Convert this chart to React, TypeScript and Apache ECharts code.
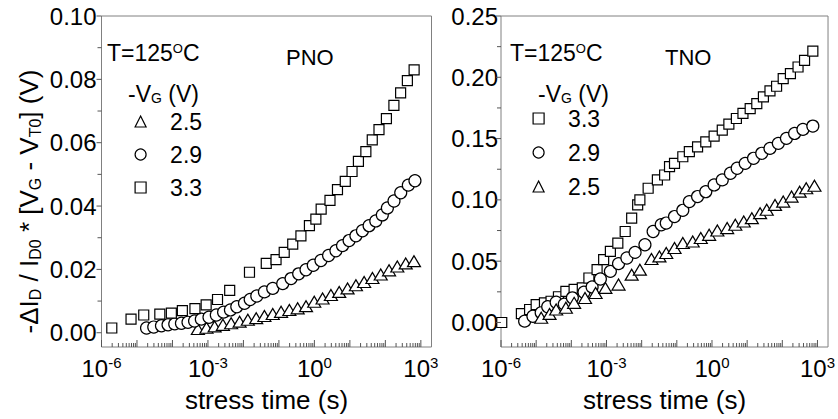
import React, { useEffect, useRef } from 'react';
import * as echarts from 'echarts';

const FONT = '"Liberation Sans", Arial, sans-serif';

// ---- PNO panel (left) : stress time (s) and value (V)
const pnoT25 = [5.2e-4, 9.1e-4, 1.54e-3, 2.64e-3, 4.5e-3, 7.8e-3, 1.33e-2, 2.29e-2, 3.9e-2, 6.7e-2, 0.115, 0.197, 0.337, 0.58, 0.99, 1.7, 2.92, 5.0, 8.6, 14.8, 25.2, 43.2, 74, 127, 217, 374, 640];
const pnoV25 = [0.0012, 0.0016, 0.002, 0.0025, 0.003, 0.0035, 0.0041, 0.0046, 0.0053, 0.0059, 0.0066, 0.0072, 0.0077, 0.0084, 0.0098, 0.0108, 0.0119, 0.0129, 0.014, 0.015, 0.016, 0.0173, 0.0184, 0.0197, 0.0209, 0.0219, 0.0226];
const pnoT29 = [1.86e-5, 2.97e-5, 4.9e-5, 7.5e-5, 1.16e-4, 1.79e-4, 2.74e-4, 4.2e-4, 6.5e-4, 1.07e-3, 1.72e-3, 2.76e-3, 4.3e-3, 6.5e-3, 1.07e-2, 1.55e-2, 2.38e-2, 3.9e-2, 6.7e-2, 0.128, 0.22, 0.36, 0.58, 0.93, 1.53, 2.51, 4.04, 6.2, 9.5, 14.8, 22.6, 34.8, 53.7, 82, 114, 175, 271, 443, 682];
const pnoV29 = [0.0015, 0.0018, 0.0022, 0.0025, 0.0028, 0.003, 0.0033, 0.0037, 0.0043, 0.0049, 0.0056, 0.0065, 0.0072, 0.0082, 0.0093, 0.0105, 0.0116, 0.0129, 0.014, 0.0155, 0.0171, 0.0186, 0.0199, 0.0213, 0.0228, 0.0244, 0.0259, 0.0275, 0.0291, 0.0306, 0.0322, 0.0338, 0.0353, 0.0372, 0.0394, 0.0416, 0.0442, 0.0466, 0.048];
const pnoT33 = [1.95e-6, 6.8e-6, 1.55e-5, 4.4e-5, 9.3e-5, 1.9e-4, 4.3e-4, 8.9e-4, 1.86e-3, 4.1e-3, 1.48e-2, 4.4e-2, 8.3e-2, 0.141, 0.245, 0.417, 0.724, 1.1, 1.55, 2.75, 4.47, 7.41, 11.5, 17.4, 28.2, 42.7, 66.1, 107, 174, 269, 417, 646];
const pnoV33 = [0.0015, 0.0043, 0.0056, 0.0059, 0.0062, 0.007, 0.0076, 0.0088, 0.0105, 0.0134, 0.0191, 0.0219, 0.0231, 0.0254, 0.028, 0.0306, 0.0338, 0.0359, 0.039, 0.0418, 0.0452, 0.0478, 0.0509, 0.0541, 0.0572, 0.0609, 0.0641, 0.0676, 0.0718, 0.0757, 0.0796, 0.083];

// ---- TNO panel (right)
const tnoT33 = [1.05e-6, 3.8e-6, 6.5e-6, 1.0e-5, 1.72e-5, 2.65e-5, 4.3e-5, 7.0e-5, 1.2e-4, 2.05e-4, 3.16e-4, 5.4e-4, 8.3e-4, 1.29e-3, 2.1e-3, 3.4e-3, 5.2e-3, 7.7e-3, 8.9e-3, 1.53e-2, 2.8e-2, 4.5e-2, 6.2e-2, 8.6e-2, 0.148, 0.227, 0.389, 0.666, 1.15, 1.96, 3.02, 4.94, 7.6, 12.2, 18.8, 29.0, 44.6, 68.7, 106, 170, 280, 429, 738];
const tnoV33 = [0.0, 0.0073, 0.0106, 0.0146, 0.016, 0.0173, 0.021, 0.0254, 0.027, 0.0282, 0.0363, 0.0431, 0.0512, 0.058, 0.0648, 0.0742, 0.0851, 0.0959, 0.1, 0.1095, 0.1163, 0.1203, 0.1271, 0.1298, 0.1352, 0.1393, 0.1433, 0.1474, 0.152, 0.1569, 0.1618, 0.1664, 0.1705, 0.1745, 0.1786, 0.184, 0.1889, 0.1927, 0.1989, 0.203, 0.2084, 0.2138, 0.2214];
const tnoT29 = [4.7e-6, 8.1e-6, 1.39e-5, 2.13e-5, 3.7e-5, 6.3e-5, 1.07e-4, 2.29e-4, 3.9e-4, 6.7e-4, 1.29e-3, 2.2e-3, 3.8e-3, 6.5e-3, 1.24e-2, 2.12e-2, 3.6e-2, 5.0e-2, 8.6e-2, 0.148, 0.227, 0.389, 0.666, 1.15, 1.96, 3.35, 5.2, 8.8, 15.2, 26, 44.6, 77, 131, 224, 386, 738];
const tnoV29 = [0.0011, 0.0051, 0.0079, 0.0128, 0.0165, 0.015, 0.0201, 0.0247, 0.029, 0.0355, 0.0417, 0.048, 0.0526, 0.0572, 0.0634, 0.0742, 0.0797, 0.0811, 0.0864, 0.0915, 0.0986, 0.1027, 0.1067, 0.1122, 0.1163, 0.1217, 0.1258, 0.1298, 0.1339, 0.138, 0.142, 0.1461, 0.1502, 0.1542, 0.1575, 0.1602];
const tnoT25 = [1.39e-5, 2.4e-5, 3.7e-5, 7.0e-5, 1.2e-4, 2.45e-4, 4.9e-4, 9.3e-4, 2.2e-3, 5.2e-3, 8.9e-3, 1.9e-2, 3.2e-2, 5.0e-2, 8.6e-2, 0.148, 0.283, 0.48, 0.83, 1.42, 2.7, 4.6, 8.0, 13.6, 23.3, 36, 62, 106, 183, 311, 478, 820];
const tnoV25 = [0.0038, 0.007, 0.0106, 0.012, 0.016, 0.02, 0.0241, 0.0282, 0.0309, 0.039, 0.0431, 0.0518, 0.0539, 0.0567, 0.0607, 0.0648, 0.0661, 0.0689, 0.0715, 0.075, 0.077, 0.0797, 0.0824, 0.0851, 0.0892, 0.0919, 0.0959, 0.0986, 0.1027, 0.1067, 0.1095, 0.1115];

// axis settings (exponents of ten)
const xDecades = [-6, -5, -4, -3, -2, -1, 0, 1, 2, 3];
const xMinorMult = [2, 3, 4, 5, 6, 7, 8, 9];
const X_MIN = -6;
const X_MAX = 3.3;
const yLeftMajor = [0, 0.02, 0.04, 0.06, 0.08, 0.1];
const yRightMajor = [0, 0.05, 0.1, 0.15, 0.2, 0.25];
const Y_LEFT = [-0.0045, 0.1];
const Y_RIGHT = [-0.02, 0.25];

const TICK = '#555';
const BOX = '#808080';

function pts(t: number[], v: number[]) {
  return t.map((x, i) => [Math.log10(x), v[i]]);
}

function scatter(name: string, idx: number, t: number[], v: number[], symbol: string, size: any) {
  return {
    type: 'scatter',
    name,
    xAxisIndex: idx,
    yAxisIndex: idx,
    data: pts(t, v),
    symbol,
    symbolSize: size,
    clip: false,
    itemStyle: { color: '#fff', borderColor: '#000', borderWidth: 1.2, opacity: 1 },
    z: 3,
  };
}

function xTickSeries(idx: number, yMin: number) {
  const ticks: number[][] = [];
  xDecades.forEach((d) => {
    if (d <= X_MAX) ticks.push([d, 7]);
    xMinorMult.forEach((m) => {
      const p = d + Math.log10(m);
      if (p < X_MAX) ticks.push([p, 4]);
    });
  });
  return {
    type: 'custom',
    xAxisIndex: idx,
    yAxisIndex: idx,
    silent: true,
    clip: false,
    z: 5,
    data: ticks,
    renderItem: (_p: any, api: any) => {
      const c = api.coord([api.value(0), yMin]);
      const len = api.value(1);
      return {
        type: 'line',
        shape: { x1: c[0], y1: c[1], x2: c[0], y2: c[1] - len },
        style: { stroke: TICK, lineWidth: 1 },
      };
    },
  };
}

function yTickSeries(idx: number, major: number[]) {
  const ticks: number[][] = [];
  major.forEach((v, i) => {
    ticks.push([v, 5]);
    if (i < major.length - 1) ticks.push([(v + major[i + 1]) / 2, 4]);
  });
  return {
    type: 'custom',
    xAxisIndex: idx,
    yAxisIndex: idx,
    silent: true,
    clip: false,
    z: 5,
    data: ticks.map((t) => [X_MIN, t[0], t[1]]),
    encode: { x: 0, y: 1 },
    renderItem: (_p: any, api: any) => {
      const c = api.coord([X_MIN, api.value(1)]);
      const len = api.value(2);
      return {
        type: 'line',
        shape: { x1: c[0] - len, y1: c[1], x2: c[0], y2: c[1] },
        style: { stroke: TICK, lineWidth: 1 },
      };
    },
  };
}

const xAxisBase = (gridIndex: number) => ({
  type: 'value',
  gridIndex,
  min: X_MIN,
  max: X_MAX,
  interval: 3,
  axisLine: { show: false },
  axisTick: { show: false },
  splitLine: { show: false },
  axisLabel: {
    margin: 8,
    formatter: (v: number) => (Math.abs(v % 3) < 1e-9 ? `{b|10}{s|${v}}` : ''),
    rich: {
      b: { fontSize: 24, fontFamily: FONT, color: '#000', lineHeight: 26 },
      s: { fontSize: 15, fontFamily: FONT, color: '#000', lineHeight: 12, verticalAlign: 'top' },
    },
  },
  name: 'stress time (s)',
  nameLocation: 'middle',
  nameGap: 40,
  nameTextStyle: { fontSize: 26, fontFamily: FONT, color: '#000' },
});

const yAxisBase = (gridIndex: number, ext: number[], margin: number) => ({
  type: 'value',
  gridIndex,
  min: ext[0],
  max: ext[1],
  splitNumber: 5,
  axisLine: { show: false },
  axisTick: { show: false },
  splitLine: { show: false },
  axisLabel: {
    showMinLabel: false,
    margin,
    fontSize: 24,
    fontFamily: FONT,
    color: '#000',
    formatter: (v: number) => v.toFixed(2),
  },
});

const txt = { fontSize: 23, fontFamily: FONT, fill: '#000' };
const richMain = {
  m: { fontSize: 23, fontFamily: FONT, color: '#000', lineHeight: 22 },
  u: { fontSize: 13, fontFamily: FONT, color: '#000', lineHeight: 8, verticalAlign: 'top' },
  s: { fontSize: 14, fontFamily: FONT, color: '#000', lineHeight: 6, verticalAlign: 'bottom' },
};

function panelTexts(tx: number, nameX: number, name: string, vgX: number) {
  return [
    {
      type: 'text',
      x: tx,
      y: 53,
      style: { text: '{m|T=125}{u|O}{m|C}', rich: richMain, verticalAlign: 'middle', align: 'left' },
    },
    {
      type: 'text',
      x: nameX,
      y: 57,
      style: { ...txt, text: name, fontSize: 22, verticalAlign: 'middle', align: 'left' },
    },
    {
      type: 'text',
      x: vgX,
      y: 94,
      style: { text: '{m|-V}{s|G}{m| (V)}', rich: richMain, verticalAlign: 'middle', align: 'left' },
    },
  ];
}

const legendBase = {
  orient: 'vertical',
  itemWidth: 11,
  itemHeight: 11,
  padding: 0,
  selectedMode: false,
  textStyle: { fontSize: 23, fontFamily: FONT, color: '#000', lineHeight: 20, padding: [0, 0, 0, 19] },
  itemStyle: { color: '#fff', borderColor: '#000', borderWidth: 1.2 },
};

export default function App() {
  const ref = useRef<HTMLDivElement>(null);
  useEffect(() => {
    document.body.style.margin = '0';
    if (!ref.current) return;
    const chart = echarts.init(ref.current, undefined, { renderer: 'svg' });
    const option: any = {
      animation: false,
      backgroundColor: '#fff',
      grid: [
        { left: 101.5, top: 16, width: 330, height: 331, show: true, borderColor: BOX, borderWidth: 1, backgroundColor: 'transparent' },
        { left: 501, top: 16, width: 332, height: 331, show: true, borderColor: BOX, borderWidth: 1, backgroundColor: 'transparent' },
      ],
      xAxis: [xAxisBase(0), xAxisBase(1)],
      yAxis: [yAxisBase(0, Y_LEFT, 5), yAxisBase(1, Y_RIGHT, 3)],
      legend: [
        { ...legendBase, data: ['2.5', '2.9', '3.3'], left: 134.5, top: 110, itemGap: 10 },
        { ...legendBase, data: ['3.3', '2.9', '2.5'], left: 532.5, top: 107, itemGap: 11 },
      ],
      graphic: [
        {
          type: 'text',
          x: 29,
          y: 201.5,
          rotation: Math.PI / 2,
          style: {
            text: '{m|-ΔI}{s|D}{m| / I}{s|D0}{m| * [V}{s|G}{m| - V}{s|T0}{m|] (V)}',
            rich: {
              m: { fontSize: 26, fontFamily: FONT, color: '#000', lineHeight: 28 },
              s: { fontSize: 16, fontFamily: FONT, color: '#000', lineHeight: 8, verticalAlign: 'bottom' },
            },
            align: 'center',
            verticalAlign: 'middle',
          },
        },
        ...panelTexts(107, 286, 'PNO', 128),
        ...panelTexts(510, 665, 'TNO', 538),
      ],
      series: [
        scatter('2.5', 0, pnoT25, pnoV25, 'triangle', [13, 11]),
        scatter('2.9', 0, pnoT29, pnoV29, 'circle', 12),
        scatter('3.3', 0, pnoT33, pnoV33, 'rect', 10),
        scatter('3.3', 1, tnoT33, tnoV33, 'rect', 10),
        scatter('2.9', 1, tnoT29, tnoV29, 'circle', 12),
        scatter('2.5', 1, tnoT25, tnoV25, 'triangle', [13, 11]),
        xTickSeries(0, Y_LEFT[0]),
        xTickSeries(1, Y_RIGHT[0]),
        yTickSeries(0, yLeftMajor),
        yTickSeries(1, yRightMajor),
      ],
    };
    chart.setOption(option);
    return () => chart.dispose();
  }, []);
  return <div ref={ref} style={{ width: 838, height: 419 }} />;
}
